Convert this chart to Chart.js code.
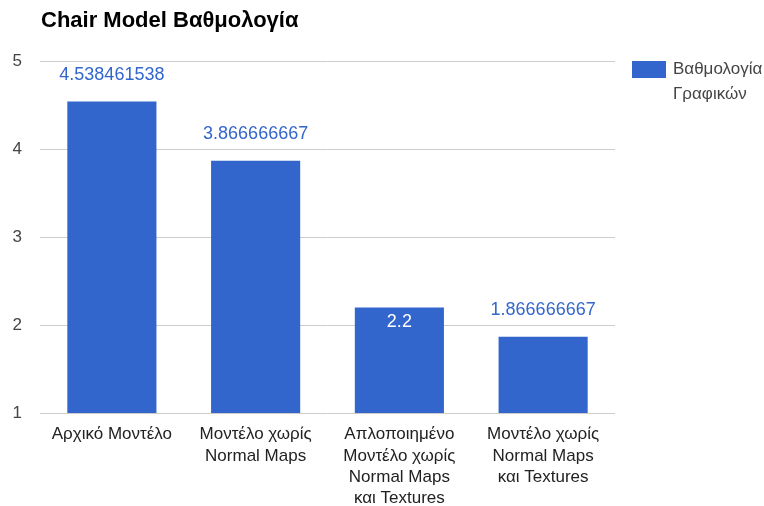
<!DOCTYPE html>
<html>
<head>
<meta charset="utf-8">
<script src="https://cdn.jsdelivr.net/npm/chart.js@4"></script>
<style>
  body { margin: 0; background: #fff; }
  #wrap { width: 764px; height: 506px; }
</style>
</head>
<body>
<div id="wrap"><canvas id="chart"></canvas></div>
<script>
const categories = [
  ["Αρχικό Μοντέλο"],
  ["Μοντέλο χωρίς", "Normal Maps"],
  ["Απλοποιημένο", "Μοντέλο χωρίς", "Normal Maps", "και Textures"],
  ["Μοντέλο χωρίς", "Normal Maps", "και Textures"]
];
const scores = [4.538461538, 3.866666667, 2.2, 1.866666667];
const valueLabels = ["4.538461538", "3.866666667", "2.2", "1.866666667"];
const labelInside = [false, false, true, false];
const seriesName = ["Βαθμολογία", "Γραφικών"];
const chartTitle = "Chair Model Βαθμολογία";

const BLUE = "#3366cc";
const FONT = "'Liberation Sans', Arial, sans-serif";

// value annotations, title and legend drawn on top
const annotate = {
  id: "annotate",
  afterDatasetsDraw(chart) {
    const ctx = chart.ctx;
    const meta = chart.getDatasetMeta(0);
    ctx.save();
    ctx.font = "18px " + FONT;
    ctx.textAlign = "center";
    ctx.textBaseline = "middle";
    meta.data.forEach((bar, i) => {
      if (labelInside[i]) {
        ctx.fillStyle = "#ffffff";
        ctx.fillText(valueLabels[i], bar.x, bar.y + 15);
      } else {
        ctx.fillStyle = BLUE;
        ctx.fillText(valueLabels[i], bar.x, bar.y - 27);
      }
    });
    ctx.restore();
  },
  afterDraw(chart) {
    const ctx = chart.ctx;
    const area = chart.chartArea;
    ctx.save();
    // title
    ctx.fillStyle = "#000";
    ctx.font = "bold 22px " + FONT;
    ctx.textBaseline = "middle";
    ctx.fillText(chartTitle, area.left + 1, 21);
    // legend
    const x = area.right + 17;
    const y = area.top;
    ctx.fillStyle = BLUE;
    ctx.fillRect(x, y, 34, 17);
    ctx.fillStyle = "#444";
    ctx.font = "17px " + FONT;
    seriesName.forEach((line, i) => ctx.fillText(line, x + 41, y + 8 + i * 25));
    ctx.restore();
  }
};

new Chart(document.getElementById("chart"), {
  type: "bar",
  data: {
    labels: categories,
    datasets: [{
      label: seriesName.join(" "),
      data: scores,
      backgroundColor: BLUE,
      categoryPercentage: 1,
      barPercentage: 0.62
    }]
  },
  options: {
    responsive: true,
    maintainAspectRatio: false,
    animation: false,
    layout: { padding: { left: 0, right: 149, top: 61, bottom: 0 } },
    plugins: {
      legend: { display: false },
      tooltip: { enabled: false },
      title: { display: false }
    },
    scales: {
      x: {
        grid: { display: false, drawTicks: false },
        border: { display: false },
        ticks: {
          color: "#222",
          font: { family: FONT, size: 17, lineHeight: 1.25 },
          maxRotation: 0,
          autoSkip: false,
          padding: 11
        },
        afterFit(scale) { scale.height = 93; }
      },
      y: {
        min: 1,
        max: 5,
        grid: { color: "#cccccc", drawTicks: false },
        border: { display: false },
        ticks: {
          stepSize: 1,
          color: "#444",
          font: { family: FONT, size: 17 },
          padding: 18
        },
        afterFit(scale) { scale.width = 40; }
      }
    }
  },
  plugins: [annotate]
});
</script>
</body>
</html>
